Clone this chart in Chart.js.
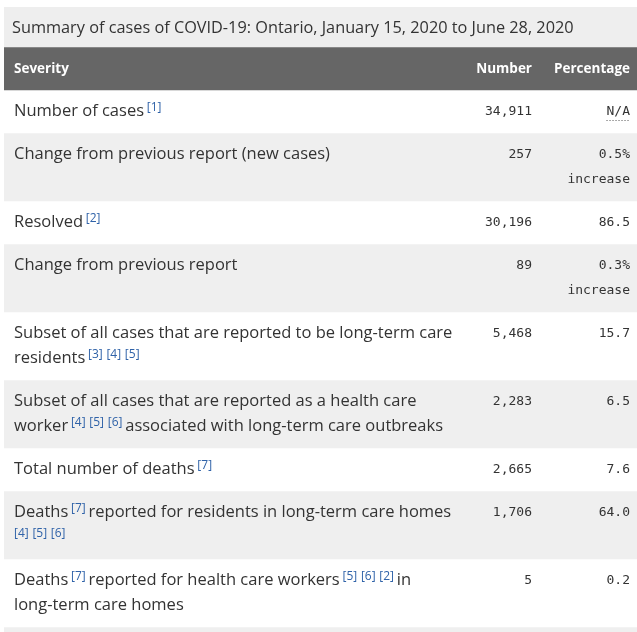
<!DOCTYPE html>
<html>
<head>
<meta charset="utf-8">
<script src="https://cdn.jsdelivr.net/npm/chart.js@4.4.0/dist/chart.umd.min.js"></script>
<style>
    html, body { margin: 0; padding: 0; background: #fff; }
    #wrap { width: 637px; height: 632px; position: relative; }
</style>
</head>
<body>
<div id="wrap"><canvas id="myChart"></canvas></div>
<script>
// table content
var title = 'Summary of cases of COVID-19: Ontario, January 15, 2020 to June 28, 2020';
var headers = ['Severity', 'Number', 'Percentage'];
var severity = [
    ['Number of cases [1]'],
    ['Change from previous report (new cases)'],
    ['Resolved [2]'],
    ['Change from previous report'],
    ['Subset of all cases that are reported to be long-term care', 'residents [3] [4] [5]'],
    ['Subset of all cases that are reported as a health care', 'worker [4] [5] [6] associated with long-term care outbreaks'],
    ['Total number of deaths [7]'],
    ['Deaths [7] reported for residents in long-term care homes', '[4] [5] [6]'],
    ['Deaths [7] reported for health care workers [5] [6] [2] in', 'long-term care homes']
];
var numbers = ['34,911', '257', '30,196', '89', '5,468', '2,283', '2,665', '1,706', '5'];
var percentages = [
    ['N/A'],
    ['0.5%', 'increase'],
    ['86.5'],
    ['0.3%', 'increase'],
    ['15.7'],
    ['6.5'],
    ['7.6'],
    ['64.0'],
    ['0.2']
];

var titleFont = '16.3px "Open Sans"';
var textFont = '16.5px "Open Sans"';
var supFont = '12px "Open Sans"';
var headFont = 'bold 13.5px "Open Sans"';
var monoFont = '13px "DejaVu Sans Mono"';
var textColor = '#333333';
var refColor = '#2f62a8';
var rowGray = '#efefef';

// row heights follow the number of text lines in each row
var lineCounts = severity.map(function (s, i) {
    return Math.max(s.length, percentages[i].length);
});
var rowHeights = lineCounts.map(function (n) { return 18 + 25 * n; });

var datasets = [
    { label: 'title', data: [40], backgroundColor: '#eeeeee' },
    { label: 'header', data: [43], backgroundColor: '#666666' }
];
severity.forEach(function (s, i) {
    datasets.push({
        label: s.join(' '),
        data: [rowHeights[i]],
        backgroundColor: i % 2 === 0 ? '#ffffff' : rowGray
    });
});
var total = datasets.reduce(function (a, d) { return a + d.data[0]; }, 0);

function isRef(p) { return /^\[\d+\]$/.test(p); }

function drawRich(ctx, line, x, y) {
    ctx.font = textFont;
    var space = ctx.measureText(' ').width;
    var parts = line.split(' ');
    parts.forEach(function (p, k) {
        if (isRef(p)) {
            ctx.font = supFont;
            ctx.fillStyle = refColor;
            ctx.fillText(p, x, y - 3.5);
        } else {
            ctx.font = textFont;
            ctx.fillStyle = textColor;
            ctx.fillText(p, x, y);
        }
        x += ctx.measureText(p).width;
        var next = parts[k + 1];
        if (next !== undefined) {
            // spaces next to a footnote are a bit narrower
            if (isRef(next) && isRef(p)) x += space - 0.6;
            else if (isRef(next) || isRef(p)) x += space - 1.5;
            else x += space;
        }
    });
}

var tablePlugin = {
    id: 'tableText',
    beforeDraw: function (chart) {
        var a = chart.chartArea, ctx = chart.ctx;
        ctx.save();
        ctx.fillStyle = rowGray;
        ctx.fillRect(a.left, a.top, a.right - a.left, a.bottom - a.top);
        ctx.restore();
    },
    afterDatasetsDraw: function (chart) {
        var ctx = chart.ctx, a = chart.chartArea;
        var left = a.left + 10, numRight = a.right - 105, pctRight = a.right - 7;
        function rowTop(i) {
            var el = chart.getDatasetMeta(i).data[0];
            return Math.min(el.y, el.base);
        }
        ctx.save();
        ctx.textBaseline = 'middle';

        // title
        ctx.font = titleFont;
        ctx.fillStyle = textColor;
        ctx.textAlign = 'left';
        ctx.fillText(title, a.left + 8, rowTop(0) + 21);

        // header
        var hy = rowTop(1) + 22;
        ctx.font = headFont;
        ctx.fillStyle = '#ffffff';
        ctx.fillText(headers[0], left, hy);
        ctx.textAlign = 'right';
        ctx.fillText(headers[1], numRight, hy);
        ctx.fillText(headers[2], pctRight, hy);

        // body rows
        severity.forEach(function (lines, i) {
            var top = rowTop(i + 2);
            ctx.textAlign = 'left';
            lines.forEach(function (ln, k) {
                drawRich(ctx, ln, left, top + 21 + 25 * k);
            });
            ctx.textAlign = 'right';
            ctx.font = monoFont;
            ctx.fillStyle = textColor;
            ctx.fillText(numbers[i], numRight, top + 22);
            percentages[i].forEach(function (p, k) {
                var y = top + 22 + 25 * k;
                ctx.font = monoFont;
                ctx.fillStyle = textColor;
                ctx.fillText(p, pctRight, y);
                if (p === 'N/A') {
                    var w = ctx.measureText(p).width;
                    ctx.strokeStyle = '#555555';
                    ctx.lineWidth = 1;
                    ctx.setLineDash([1, 2]);
                    ctx.beginPath();
                    ctx.moveTo(pctRight - w, y + 8.5);
                    ctx.lineTo(pctRight, y + 8.5);
                    ctx.stroke();
                    ctx.setLineDash([]);
                }
            });
        });
        ctx.restore();
    }
};

var ctx = document.getElementById('myChart').getContext('2d');
var tableChart = new Chart(ctx, {
    type: 'bar',
    data: {
        labels: ['table'],
        datasets: datasets
    },
    options: {
        responsive: true,
        maintainAspectRatio: false,
        animation: false,
        layout: { padding: { left: 4, top: 7, right: 0, bottom: 0 } },
        datasets: { bar: { categoryPercentage: 1, barPercentage: 1, borderWidth: 0 } },
        scales: {
            x: { stacked: true, display: false },
            y: { stacked: true, display: false, reverse: true, min: 0, max: total + 5 }
        },
        plugins: {
            legend: { display: false },
            tooltip: { enabled: false }
        }
    },
    plugins: [tablePlugin]
});
</script>
</body>
</html>
